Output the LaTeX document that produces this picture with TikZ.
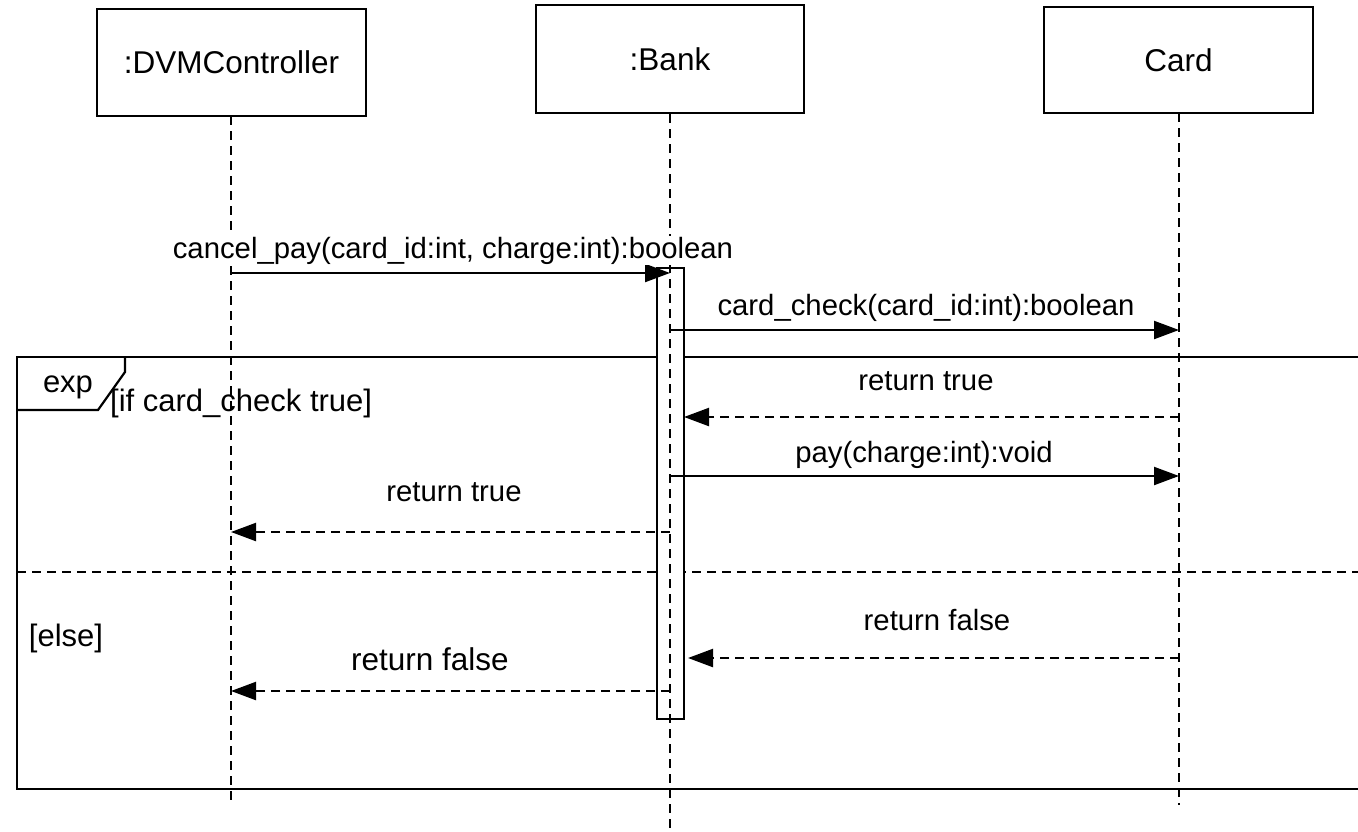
\documentclass[tikz,border=0pt]{standalone}
\usepackage{fontspec}
\setmainfont{Liberation Sans}
\usetikzlibrary{arrows.meta}
\tikzset{
  objbox/.style={draw, line width=2.2pt, minimum width=269pt, minimum height=107pt, inner sep=0pt, font=\fontsize{31.5}{36}\selectfont},
  lifeline/.style={line width=2.2pt, dash pattern=on 9pt off 6pt},
  callmsg/.style={line width=2.2pt, -{Triangle[length=25pt,width=18pt]}},
  retmsg/.style={line width=2.2pt, dash pattern=on 9pt off 6pt, -{Triangle[length=25pt,width=18pt]}},
  msglabel/.style={fill=white, inner sep=1pt, anchor=base, font=\fontsize{29.3}{34}\selectfont},
  biglabel/.style={fill=white, inner sep=1pt, anchor=base, font=\fontsize{31.5}{36}\selectfont},
  framelabel/.style={inner sep=0pt, anchor=base, font=\fontsize{31}{36}\selectfont},
  framestyle/.style={line width=2.2pt},
  actbar/.style={draw, fill=white, line width=2.2pt, minimum width=27pt, minimum height=451pt, inner sep=0pt}
}
\begin{document}
\begin{tikzpicture}[x=1pt,y=-1pt]
\useasboundingbox (0,0) rectangle (1358,831);
\clip (0,0) rectangle (1358,831);
\fill[white] (0,0) rectangle (1358,831);

% object boxes
\node[objbox, minimum height=107pt] (dvm) at (231.5,62.5) {:DVMController};
\node[objbox, minimum width=268pt, minimum height=108pt] (bank) at (670,59) {:Bank};
\node[objbox, minimum height=106pt] (card) at (1178.5,60) {Card};

% combined fragment frame
\coordinate (frTR) at (1358,357);
\coordinate (frTL) at (17,357);
\coordinate (frBL) at (17,789);
\coordinate (frBR) at (1358,789);
\draw[framestyle] (frTR) -- (frTL) -- (frBL) -- (frBR);
\coordinate (pA) at (125,357);
\coordinate (pB) at (125,372);
\coordinate (pC) at (98,410);
\coordinate (pD) at (17,410);
\draw[framestyle, line join=miter] (pA) -- (pB) -- (pC) -- (pD);
\coordinate (sepL) at (17,572);
\coordinate (sepR) at (1358,572);
\draw[lifeline] (sepL) -- (sepR);

% activation bar
\node[actbar] (act) at (670.5,493.5) {};

% lifelines
\coordinate (dvmEnd) at (231,805);
\coordinate (bankEnd) at (670,831);
\coordinate (cardEnd) at (1179,805);
\draw[lifeline] (231,116) -- (dvmEnd);
\draw[lifeline] (bank.south) -- (bankEnd);
\draw[lifeline] (1179,113) -- (cardEnd);

% messages
\coordinate (m1s) at (231,273);  \coordinate (m1e) at (670,273);
\coordinate (m2s) at (670,330);  \coordinate (m2e) at (1179,330);
\coordinate (m3s) at (1179,417); \coordinate (m3e) at (684,417);
\coordinate (m4s) at (670,476);  \coordinate (m4e) at (1179,476);
\coordinate (m5s) at (670,532);  \coordinate (m5e) at (231,532);
\coordinate (m6s) at (1179,658); \coordinate (m6e) at (688,658);
\coordinate (m7s) at (670,691);  \coordinate (m7e) at (231,691);

\draw[callmsg] (m1s) -- (m1e);
\draw[callmsg] (m2s) -- (m2e);
\draw[retmsg] (m3s) -- (m3e);
\draw[callmsg] (m4s) -- (m4e);
\draw[retmsg] (m5s) -- (m5e);
\draw[retmsg] (m6s) -- (m6e);
\draw[retmsg] (m7s) -- (m7e);

% message labels
\node[msglabel] (l1) at (453,258) {cancel\_pay(card\_id:int, charge:int):boolean};
\node[msglabel] (l2) at (926,315) {card\_check(card\_id:int):boolean};
\node[msglabel] (l3) at (926,390) {return true};
\node[msglabel] (l4) at (924,462) {pay(charge:int):void};
\node[msglabel] (l5) at (454,501) {return true};
\node[msglabel] (l6) at (937,630) {return false};
\node[biglabel] (l7) at (430,670) {return false};

% frame labels
\node[framelabel] (fexp) at (68,392) {exp};
\node[framelabel, anchor=base west] (fcond) at (110,411) {[if card\_check true]};
\node[framelabel] (felse) at (66,646) {[else]};
\end{tikzpicture}
\end{document}
